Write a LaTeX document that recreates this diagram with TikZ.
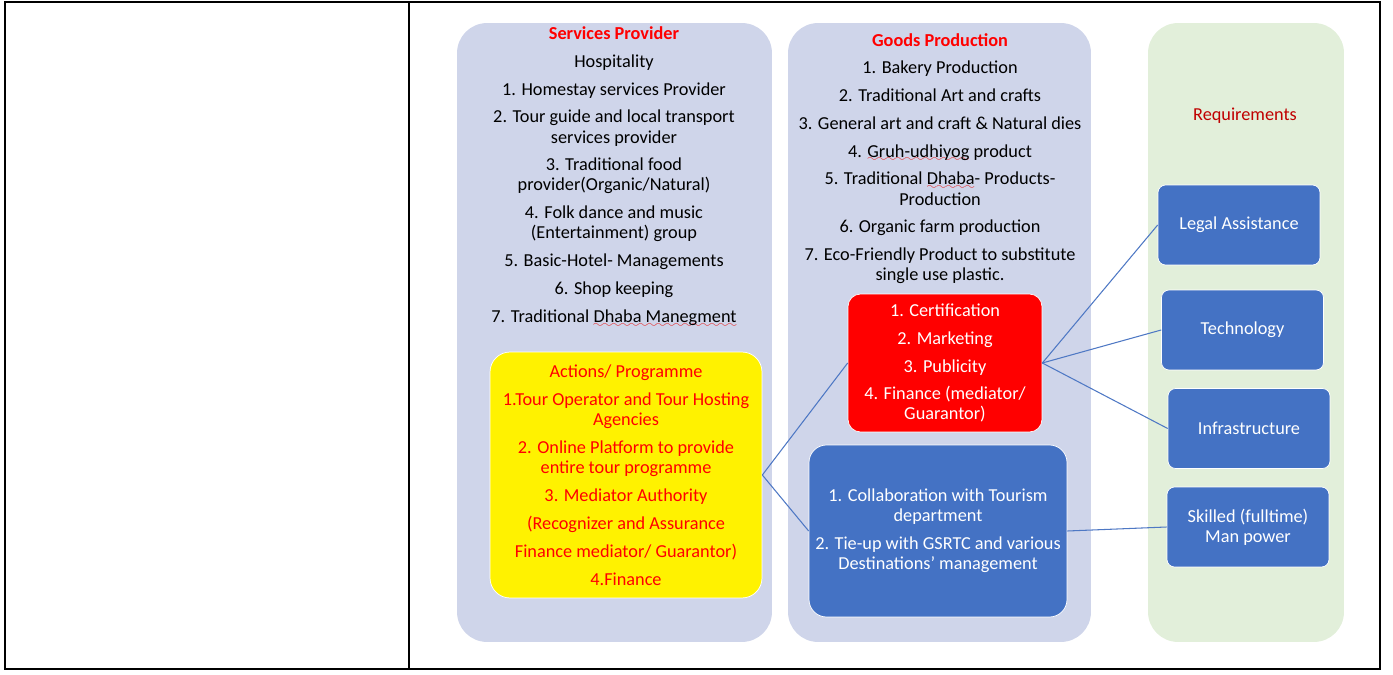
\documentclass[tikz,border=0pt]{standalone}
\usepackage{fontspec}
\setmainfont{Carlito}
\usepackage{xcolor}
\usetikzlibrary{positioning}
\definecolor{panelblue}{RGB}{207,213,234}
\definecolor{panelgreen}{RGB}{226,239,218}
\definecolor{boxblue}{RGB}{68,114,196}
\definecolor{linkblue}{RGB}{78,120,196}
\definecolor{reqred}{RGB}{192,0,0}
\definecolor{spellred}{RGB}{230,40,40}
\font\wavyfont=lasy6
\newsavebox\spellbox
\newcommand\spellmark[1]{\sbox\spellbox{#1}\rlap{\raisebox{-2.5pt}{\color{spellred}\hbox to\wd\spellbox{\xleaders\hbox{\wavyfont\char58}\hfill}}}\usebox\spellbox}
\newcommand\paneltitle[1]{{\bfseries\color{red}#1}}
\tikzset{
    panel/.style={
        rectangle,
        rounded corners=0.6cm,
        fill=panelblue,
        minimum width=6.3cm,
        minimum height=12.38cm,
        inner sep=0pt
    },
    reqpanel/.style={
        panel,
        fill=panelgreen,
        minimum width=3.92cm
    },
    paneltext/.style={
        anchor=north,
        align=center,
        inner sep=0pt,
        font=\fontsize{10.4}{11.4}\selectfont
    },
    actionbox/.style={
        rectangle,
        rounded corners=0.4cm,
        draw=white,
        thin,
        fill=yellow,
        text=red,
        align=center,
        minimum width=5.44cm,
        minimum height=4.92cm,
        font=\fontsize{10.4}{11.4}\selectfont
    },
    certbox/.style={
        rectangle,
        rounded corners=0.25cm,
        draw=white,
        thin,
        fill=red,
        text=white,
        align=center,
        minimum width=3.88cm,
        minimum height=2.76cm,
        font=\fontsize{10.4}{11.4}\selectfont
    },
    tiebox/.style={
        rectangle,
        rounded corners=0.35cm,
        draw=white,
        thin,
        fill=boxblue,
        text=white,
        align=center,
        minimum width=5.16cm,
        minimum height=3.44cm,
        font=\fontsize{10.4}{11.4}\selectfont
    },
    reqbox/.style={
        rectangle,
        rounded corners=0.15cm,
        draw=white,
        thin,
        fill=boxblue,
        text=white,
        align=center,
        minimum width=3.24cm,
        minimum height=1.6cm,
        font=\fontsize{10.4}{11.4}\selectfont
    },
    link/.style={
        draw=linkblue,
        line width=0.6pt
    },
    frame/.style={
        draw=black,
        line width=1.3pt
    }
}

\begin{document}
\begin{tikzpicture}[x=0.02cm, y=-0.02cm]
\useasboundingbox (0,0) rectangle (1393,675);

% Table frame
\draw[frame] (5,2) rectangle (1380,669);
\draw[frame] (409,2) -- (409,669);

% Panels
\node[panel] (svc_panel) at (614.5,332.5) {};
\node[panel, minimum width=6.06cm] (goods_panel) at (939.5,332.5) {};
\node[reqpanel] (req_panel) at (1246,332.5) {};

% Panel lists
\node[paneltext] (svc_list) at (614,26) {\paneltitle{Services Provider}\\[4.5pt]
  Hospitality\\[4.5pt]
  1. Homestay services Provider\\[4.5pt]
  2. Tour guide and local transport\\ services provider\\[4.5pt]
  3. Traditional food\\ provider(Organic/Natural)\\[4.5pt]
  4. Folk dance and music\\ (Entertainment) group\\[4.5pt]
  5. Basic-Hotel- Managements\\[4.5pt]
  6. Shop keeping\\[4.5pt]
  7. Traditional \spellmark{Dhaba Manegment}};
\node[paneltext] (goods_list) at (940,33) {\paneltitle{Goods Production}\\[4pt]
  1. Bakery Production\\[4.5pt]
  2. Traditional Art and crafts\\[4.5pt]
  3. General art and craft \& Natural dies\\[4.5pt]
  4. \spellmark{Gruh-udhiyog} product\\[4.5pt]
  5. Traditional \spellmark{Dhaba}- Products-\\ Production\\[4.5pt]
  6. Organic farm production\\[4.5pt]
  7. Eco-Friendly Product to substitute\\ single use plastic.};
\node[paneltext, anchor=center, text=reqred] (req_title) at (1245,116) {Requirements};

% Action and support boxes
\node[actionbox] (action_box) at (626,475) {Actions/ Programme\\[4.5pt]
  1.Tour Operator and Tour Hosting\\ Agencies\\[4.5pt]
  2. Online Platform to provide\\ entire tour programme\\[4.5pt]
  3. Mediator Authority\\[4.5pt]
  (Recognizer and Assurance\\[4.5pt]
  Finance mediator/ Guarantor)\\[4.5pt]
  4.Finance};
\node[certbox] (cert_box) at (945,363) {1. Certification\\[4.5pt]
  2. Marketing\\[4.5pt]
  3. Publicity\\[4.5pt]
  4. Finance (mediator/\\ Guarantor)};
\node[tiebox] (tie_box) at (938,531) {1. Collaboration with Tourism\\ department\\[4.5pt]
  2. Tie-up with GSRTC and various\\ Destinations' management};

% Requirements
\node[reqbox] (legal) at (1239,225) {Legal Assistance};
\node[reqbox] (tech) at (1242.5,330) {Technology};
\node[reqbox] (infra) at (1249,428.5) {Infrastructure};
\node[reqbox] (skill) at (1248,527) {Skilled (fulltime)\\ Man power};

% Links
\draw[link] (action_box.east) -- (cert_box.west);
\draw[link] (action_box.east) -- (tie_box.west);
\draw[link] (cert_box.east) -- (legal.west);
\draw[link] (cert_box.east) -- (tech.west);
\draw[link] (cert_box.east) -- (infra.west);
\draw[link] (tie_box.east) -- (skill.west);

\end{tikzpicture}
\end{document}
